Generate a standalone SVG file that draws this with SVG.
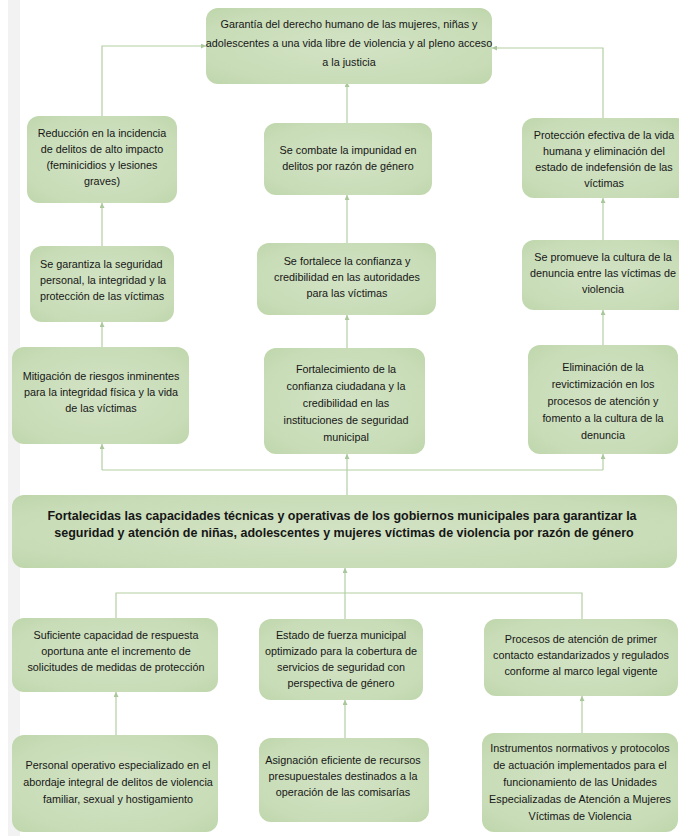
<svg xmlns="http://www.w3.org/2000/svg" width="679" height="836" viewBox="0 0 679 836">
<defs>
<radialGradient id="g" cx="0.5" cy="0.5" r="0.75">
<stop offset="0" stop-color="#d2e3c4"/>
<stop offset="0.7" stop-color="#c8dcb7"/>
<stop offset="1" stop-color="#bcd4a8"/>
</radialGradient>
<marker id="ah" viewBox="0 0 10 10" refX="10" refY="5" markerWidth="6" markerHeight="5" markerUnits="userSpaceOnUse" orient="auto">
<path d="M0,0 L10,5 L0,10 z" fill="#a9c799"/>
</marker>
<style>
.b{fill:url(#g);}
.t{font-family:"Liberation Sans",Arial,sans-serif;font-size:10.8px;fill:#161616;text-anchor:middle;}
.l{text-anchor:start;}
.m{font-family:"Liberation Sans",Arial,sans-serif;font-size:12.5px;font-weight:bold;fill:#161616;text-anchor:middle;}
.c{fill:none;stroke:#b3cfa4;stroke-width:1.2;}
.a{marker-end:url(#ah);}
</style>
</defs>
<rect width="679" height="836" fill="#ffffff"/>
<rect x="8" y="0" width="12" height="836" fill="#f2f2f2"/>

<g id="connectors">
<path class="c a" d="M102,116 V46 H206"/>
<path class="c a" d="M603,118 V48 H492"/>
<path class="c a" d="M347,123 V82"/>
<path class="c a" d="M102,246 V203"/>
<path class="c a" d="M347,243 V195"/>
<path class="c a" d="M603,240 V198"/>
<path class="c a" d="M102,347 V322"/>
<path class="c a" d="M347,348 V315"/>
<path class="c a" d="M603,345 V310"/>
<path class="c" d="M347,495 V470 M102,470 H603"/>
<path class="c a" d="M102,470 V444"/>
<path class="c a" d="M347,470 V454"/>
<path class="c a" d="M603,470 V454"/>
<path class="c a" d="M345,619 V568"/>
<path class="c" d="M116,618 V593 H582 V619"/>
<path class="c a" d="M116,735 V692"/>
<path class="c a" d="M345,738 V700"/>
<path class="c a" d="M582,733 V696"/>
</g>

<g id="n-top">
<rect class="b" x="206" y="8" width="286" height="76" rx="12"/>
<text class="t" x="349" y="28">Garantía del derecho humano de las mujeres, niñas y</text>
<text class="t" x="349" y="47">adolescentes a una vida libre de violencia y al pleno acceso</text>
<text class="t" x="349" y="66">a la justicia</text>
</g>

<g id="n-r2-left">
<rect class="b" x="27" y="116" width="150" height="87" rx="12"/>
<text class="t" x="102" y="137">Reducción en la incidencia</text>
<text class="t" x="102" y="153">de delitos de alto impacto</text>
<text class="t" x="102" y="169">(feminicidios y lesiones</text>
<text class="t" x="102" y="185">graves)</text>
</g>

<g id="n-r2-center">
<rect class="b" x="264" y="123" width="168" height="72" rx="12"/>
<text class="t" x="348" y="154">Se combate la impunidad en</text>
<text class="t" x="348" y="170">delitos por razón de género</text>
</g>

<g id="n-r2-right">
<rect class="b" x="522" y="118" width="166" height="80" rx="12"/>
<text class="t" x="604" y="139">Protección efectiva de la vida</text>
<text class="t" x="604" y="155">humana y eliminación del</text>
<text class="t" x="604" y="171">estado de indefensión de las</text>
<text class="t" x="604" y="187">víctimas</text>
</g>

<g id="n-r3-left">
<rect class="b" x="30" y="246" width="144" height="76" rx="12"/>
<text class="t l" x="40" y="268">Se garantiza la seguridad</text>
<text class="t l" x="40" y="284">personal, la integridad y la</text>
<text class="t l" x="40" y="300">protección de las víctimas</text>
</g>

<g id="n-r3-center">
<rect class="b" x="257" y="243" width="179" height="72" rx="12"/>
<text class="t" x="347" y="265">Se fortalece la confianza y</text>
<text class="t" x="347" y="281">credibilidad en las autoridades</text>
<text class="t" x="347" y="297">para las víctimas</text>
</g>

<g id="n-r3-right">
<rect class="b" x="522" y="240" width="166" height="70" rx="12"/>
<text class="t" x="603" y="261">Se promueve la cultura de la</text>
<text class="t" x="603" y="277">denuncia entre las víctimas de</text>
<text class="t" x="603" y="293">violencia</text>
</g>

<g id="n-r4-left">
<rect class="b" x="12" y="347" width="177" height="97" rx="12"/>
<text class="t" x="101" y="380">Mitigación de riesgos inminentes</text>
<text class="t" x="101" y="396">para la integridad física y la vida</text>
<text class="t" x="101" y="412">de las víctimas</text>
</g>

<g id="n-r4-center">
<rect class="b" x="264" y="348" width="161" height="106" rx="12"/>
<text class="t" x="346" y="373">Fortalecimiento de la</text>
<text class="t" x="346" y="390">confianza ciudadana y la</text>
<text class="t" x="346" y="407">credibilidad en las</text>
<text class="t" x="346" y="424">instituciones de seguridad</text>
<text class="t" x="346" y="441">municipal</text>
</g>

<g id="n-r4-right">
<rect class="b" x="528" y="345" width="150" height="109" rx="12"/>
<text class="t" x="603" y="371">Eliminación de la</text>
<text class="t" x="603" y="388">revictimización en los</text>
<text class="t" x="603" y="405">procesos de atención y</text>
<text class="t" x="603" y="422">fomento a la cultura de la</text>
<text class="t" x="603" y="439">denuncia</text>
</g>

<g id="n-main">
<rect class="b" x="12" y="495" width="665" height="73" rx="12"/>
<text class="m" x="342" y="520">Fortalecidas las capacidades técnicas y operativas de los gobiernos municipales para garantizar la</text>
<text class="m" x="344" y="537">seguridad y atención de niñas, adolescentes y mujeres víctimas de violencia por razón de género</text>
</g>

<g id="n-r5-left">
<rect class="b" x="12" y="618" width="206" height="74" rx="12"/>
<text class="t" x="116" y="639">Suficiente capacidad de respuesta</text>
<text class="t" x="116" y="655">oportuna ante el incremento de</text>
<text class="t" x="116" y="671">solicitudes de medidas de protección</text>
</g>

<g id="n-r5-center">
<rect class="b" x="259" y="619" width="164" height="81" rx="12"/>
<text class="t" x="341" y="639">Estado de fuerza municipal</text>
<text class="t" x="341" y="655">optimizado para la cobertura de</text>
<text class="t" x="341" y="671">servicios de seguridad con</text>
<text class="t" x="341" y="687">perspectiva de género</text>
</g>

<g id="n-r5-right">
<rect class="b" x="484" y="619" width="194" height="77" rx="12"/>
<text class="t" x="581" y="643">Procesos de atención de primer</text>
<text class="t" x="581" y="659">contacto estandarizados y regulados</text>
<text class="t" x="581" y="675">conforme al marco legal vigente</text>
</g>

<g id="n-r6-left">
<rect class="b" x="12" y="735" width="206" height="97" rx="12"/>
<text class="t" x="118" y="769">Personal operativo especializado en el</text>
<text class="t" x="118" y="786">abordaje integral de delitos de violencia</text>
<text class="t" x="118" y="803">familiar, sexual y hostigamiento</text>
</g>

<g id="n-r6-center">
<rect class="b" x="259" y="738" width="170" height="84" rx="12"/>
<text class="t" x="343" y="764">Asignación eficiente de recursos</text>
<text class="t" x="343" y="780">presupuestales destinados a la</text>
<text class="t" x="343" y="796">operación de las comisarías</text>
</g>

<g id="n-r6-right">
<rect class="b" x="482" y="733" width="196" height="99" rx="12"/>
<text class="t" x="580" y="752">Instrumentos normativos y protocolos</text>
<text class="t" x="580" y="769">de actuación implementados para el</text>
<text class="t" x="580" y="786">funcionamiento de las Unidades</text>
<text class="t" x="580" y="803">Especializadas de Atención a Mujeres</text>
<text class="t" x="580" y="820">Víctimas de Violencia</text>
</g>
</svg>
